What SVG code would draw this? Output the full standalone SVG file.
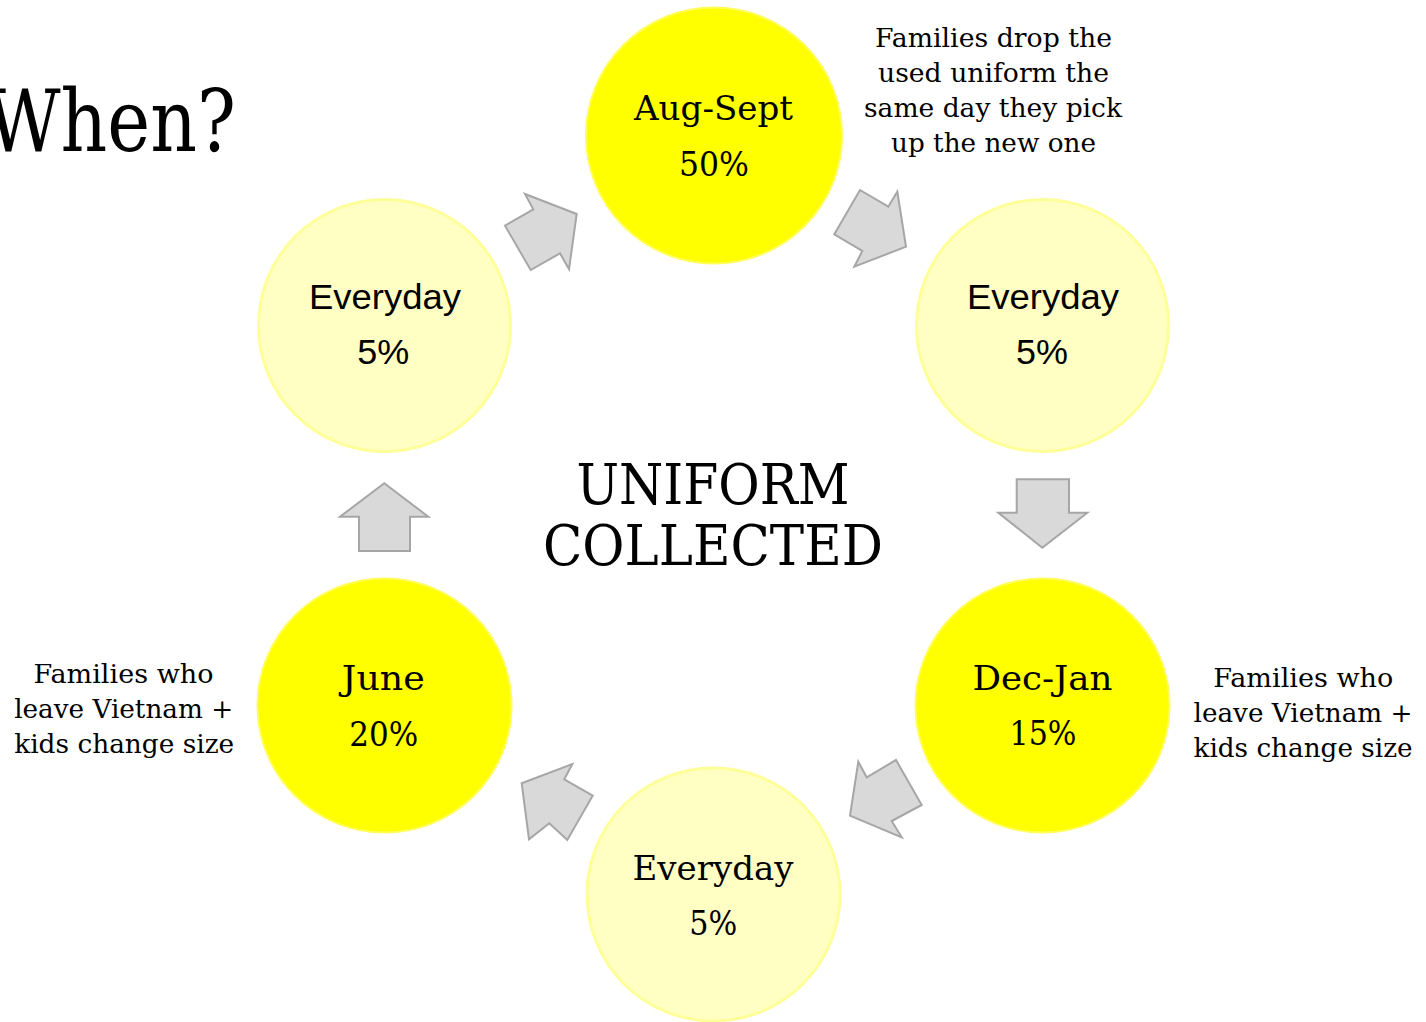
<svg xmlns="http://www.w3.org/2000/svg" width="1426" height="1022" viewBox="0 0 1426 1022">
<style>
.bg{fill:#ffffff}
.light{fill:#FFFFC4;stroke:#FFFF99;stroke-width:3}
.strong{fill:#FFFF00;stroke:#FFFF55;stroke-width:2}
.arrow{fill:#D9D9D9;stroke:#A6A6A6;stroke-width:2;stroke-linejoin:miter}
.serif{font-family:"DejaVu Serif","Liberation Serif",serif;fill:#000}
.sans{font-family:"Liberation Sans",Arial,sans-serif;fill:#000}
.c{text-anchor:middle}
.lbl{font-size:33px}
.note{font-size:26px}
</style>
<rect class="bg" x="0" y="0" width="1426" height="1022"/>
<text class="serif" x="-14" y="151" font-size="86" textLength="250" lengthAdjust="spacingAndGlyphs">When?</text>
<g id="center-title">
<text class="serif c" x="713" y="504" font-size="56" textLength="273" lengthAdjust="spacingAndGlyphs">UNIFORM</text>
<text class="serif c" x="713" y="565" font-size="56" textLength="340" lengthAdjust="spacingAndGlyphs">COLLECTED</text>
</g>
<g id="connectors">
<polygon class="arrow" points="505,225.7 533.3,209.3 525,194 576.7,214 569,269.3 560,253.3 530.7,270"/>
<polygon class="arrow" points="834.3,234.3 860,190 888.3,206.7 897.3,191.7 906,246.7 854.3,266.7 862.3,251"/>
<polygon class="arrow" points="1016.7,479.3 1069,479.3 1069,512.7 1087.3,512.7 1042.3,547.7 998.3,512.7 1016.7,512.7"/>
<polygon class="arrow" points="858.3,761.7 866.7,777.3 896,760 921.7,805 891.7,821 901.7,837.3 850,815.7"/>
<polygon class="arrow" points="521.7,783.3 572.3,764 564.3,779.3 592.7,795.7 567.3,840 549.3,823.3 529,839.3"/>
<polygon class="arrow" points="384.3,483.3 428.3,516.7 410,516.7 410,551 359,551 359,516.7 340,516.7"/>
</g>
<g id="aug-sept">
<circle class="strong" cx="714" cy="135.5" r="128"/>
<text class="serif c lbl" x="713.5" y="120" textLength="159" lengthAdjust="spacingAndGlyphs">Aug-Sept</text>
<text class="serif c lbl" x="714" y="176" textLength="70" lengthAdjust="spacingAndGlyphs">50%</text>
</g>
<g id="everyday-right">
<circle class="light" cx="1042.5" cy="325.5" r="126"/>
<text class="sans c" x="1043" y="309" font-size="35" textLength="152" lengthAdjust="spacingAndGlyphs">Everyday</text>
<text class="sans c" x="1042" y="364.3" font-size="35" textLength="52" lengthAdjust="spacingAndGlyphs">5%</text>
</g>
<g id="dec-jan">
<circle class="strong" cx="1042.5" cy="705.5" r="127"/>
<text class="serif c lbl" x="1042.5" y="690" textLength="140" lengthAdjust="spacingAndGlyphs">Dec-Jan</text>
<text class="serif c lbl" x="1043" y="745" textLength="67" lengthAdjust="spacingAndGlyphs">15%</text>
</g>
<g id="everyday-bottom">
<circle class="light" cx="713.5" cy="894.5" r="126.5"/>
<text class="serif c lbl" x="713" y="880" textLength="161" lengthAdjust="spacingAndGlyphs">Everyday</text>
<text class="serif c lbl" x="713.3" y="935" textLength="48" lengthAdjust="spacingAndGlyphs">5%</text>
</g>
<g id="june">
<circle class="strong" cx="384.5" cy="705.5" r="127"/>
<text class="serif c lbl" x="383.3" y="689.5" textLength="83" lengthAdjust="spacingAndGlyphs">June</text>
<text class="serif c lbl" x="383.8" y="745.7" textLength="69" lengthAdjust="spacingAndGlyphs">20%</text>
</g>
<g id="everyday-left">
<circle class="light" cx="384.5" cy="325.5" r="126"/>
<text class="sans c" x="385" y="309" font-size="35" textLength="152" lengthAdjust="spacingAndGlyphs">Everyday</text>
<text class="sans c" x="383.3" y="364.3" font-size="35" textLength="52" lengthAdjust="spacingAndGlyphs">5%</text>
</g>
<g id="note-top">
<text class="serif c note" x="993.5" y="47" textLength="237" lengthAdjust="spacingAndGlyphs">Families drop the</text>
<text class="serif c note" x="993.5" y="82" textLength="231" lengthAdjust="spacingAndGlyphs">used uniform the</text>
<text class="serif c note" x="993" y="117" textLength="258" lengthAdjust="spacingAndGlyphs">same day they pick</text>
<text class="serif c note" x="993.5" y="152" textLength="205" lengthAdjust="spacingAndGlyphs">up the new one</text>
</g>
<g id="note-left">
<text class="serif c note" x="123.5" y="683.3" textLength="180" lengthAdjust="spacingAndGlyphs">Families who</text>
<text class="serif c note" x="123.7" y="718.3" textLength="219" lengthAdjust="spacingAndGlyphs">leave Vietnam +</text>
<text class="serif c note" x="124.2" y="752.5" textLength="220" lengthAdjust="spacingAndGlyphs">kids change size</text>
</g>
<g id="note-right">
<text class="serif c note" x="1303.3" y="687.3" textLength="180" lengthAdjust="spacingAndGlyphs">Families who</text>
<text class="serif c note" x="1303" y="721.7" textLength="219" lengthAdjust="spacingAndGlyphs">leave Vietnam +</text>
<text class="serif c note" x="1303" y="756.5" textLength="219" lengthAdjust="spacingAndGlyphs">kids change size</text>
</g>
</svg>
